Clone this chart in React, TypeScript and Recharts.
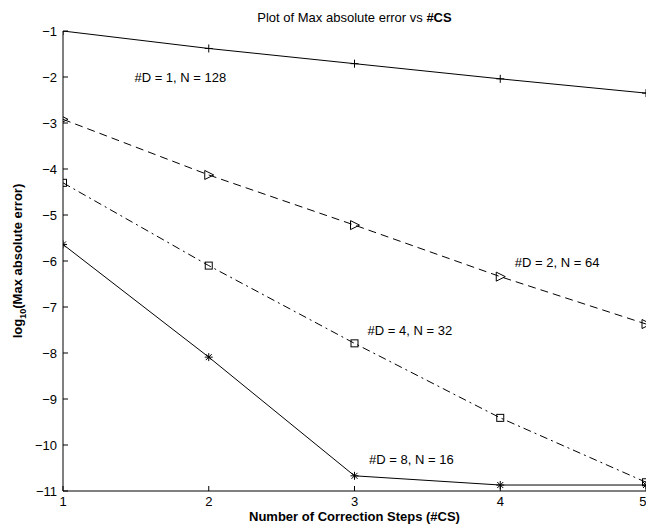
import { ComposedChart, Line, Scatter, XAxis, YAxis } from 'recharts';

// correction steps
const steps = [1, 2, 3, 4, 5];
// log10 of max absolute error per run
const errD1 = [-1.0, -1.38, -1.71, -2.04, -2.35];
const errD2 = [-2.92, -4.13, -5.22, -6.34, -7.37];
const errD4 = [-4.3, -6.1, -7.79, -9.41, -10.81];
const errD8 = [-5.64, -8.09, -10.67, -10.87, -10.87];

const xTicks = [1, 2, 3, 4, 5];
const yTicks = [-11, -10, -9, -8, -7, -6, -5, -4, -3, -2, -1];

// text labels next to the curves (data coords, left edge / middle)
const noteText = ['#D = 1, N = 128', '#D = 2, N = 64', '#D = 4, N = 32', '#D = 8, N = 16'];
const noteX = [1.49, 4.1, 3.09, 3.1];
const noteY = [-2.0, -6.04, -7.52, -10.31];

const data = steps.map((s, i) => ({ x: s, d1: errD1[i], d2: errD2[i], d4: errD4[i], d8: errD8[i] }));
const notes = noteText.map((t, i) => ({ x: noteX[i], y: noteY[i], text: t }));

const FONT = '"Liberation Sans", Arial, Helvetica, sans-serif';
const minus = (v) => String(v).replace('-', '\u2212');

const PlusDot = (p) => {
    const { cx, cy } = p;
    if (cx == null || cy == null) return null;
    return (
        <g key={p.key}>
            <line x1={cx - 4} x2={cx + 4} y1={cy} y2={cy} stroke="#000" />
            <line x1={cx} x2={cx} y1={cy - 4} y2={cy + 4} stroke="#000" />
        </g>
    );
};

const TriDot = (p) => {
    const { cx, cy } = p;
    if (cx == null || cy == null) return null;
    return (
        <polygon
            key={p.key}
            points={`${cx - 4},${cy - 4.5} ${cx - 4},${cy + 4.5} ${cx + 5},${cy}`}
            fill="none"
            stroke="#000"
        />
    );
};

const SquareDot = (p) => {
    const { cx, cy } = p;
    if (cx == null || cy == null) return null;
    return <rect key={p.key} x={cx - 3.5} y={cy - 3.5} width={7} height={7} fill="none" stroke="#000" />;
};

const StarDot = (p) => {
    const { cx, cy } = p;
    if (cx == null || cy == null) return null;
    return (
        <g key={p.key} stroke="#000">
            <line x1={cx - 4} x2={cx + 4} y1={cy} y2={cy} />
            <line x1={cx} x2={cx} y1={cy - 4} y2={cy + 4} />
            <line x1={cx - 3} x2={cx + 3} y1={cy - 3} y2={cy + 3} />
            <line x1={cx - 3} x2={cx + 3} y1={cy + 3} y2={cy - 3} />
        </g>
    );
};

const NoteShape = (p) => (
    <text x={p.cx} y={p.cy} dy="0.35em" fontSize={13} fontFamily={FONT} fill="#000">
        {p.payload.text}
    </text>
);

const YLabel = ({ viewBox }) => {
    const cy = viewBox.y + viewBox.height / 2;
    return (
        <text
            transform={`translate(22, ${cy}) rotate(-90)`}
            textAnchor="middle"
            fontSize={13}
            fontWeight="bold"
            fontFamily={FONT}
            fill="#000"
        >
            log<tspan fontSize={9} dy={4}>10</tspan>
            <tspan dy={-4}>(Max absolute error)</tspan>
        </text>
    );
};

const XLabel = ({ viewBox }) => {
    const cx = viewBox.x + viewBox.width / 2;
    return (
        <g fontFamily={FONT} fill="#000">
            <text x={cx} y={viewBox.y + 30} textAnchor="middle" fontSize={13} fontWeight="bold">
                Number of Correction Steps (#CS)
            </text>
            <text x={cx} y={22} textAnchor="middle" fontSize={13}>
                Plot of Max absolute error vs <tspan fontWeight="bold">#CS</tspan>
            </text>
        </g>
    );
};

export default function App() {
    return (
        <div style={{ position: 'absolute', left: 0, top: 0, background: '#fff' }}>
            <ComposedChart width={646} height={527} data={data} margin={{ top: 31, right: 0, left: 0, bottom: 0 }}>
                <XAxis
                    dataKey="x"
                    type="number"
                    domain={[1, 5]}
                    ticks={xTicks}
                    allowDataOverflow
                    height={36}
                    stroke="#000"
                    tickSize={-5}
                    tickMargin={11}
                    tick={{ fill: '#000', fontSize: 13, fontFamily: FONT }}
                    label={{ content: XLabel }}
                />
                <YAxis
                    type="number"
                    domain={[-11, -1]}
                    ticks={yTicks}
                    allowDataOverflow
                    width={63}
                    stroke="#000"
                    tickSize={-5}
                    tickMargin={11}
                    tickFormatter={minus}
                    tick={{ fill: '#000', fontSize: 13, fontFamily: FONT }}
                    label={{ content: YLabel }}
                />
                <Line dataKey="d1" type="linear" stroke="#000" strokeWidth={1} dot={PlusDot} activeDot={false} isAnimationActive={false} />
                <Line dataKey="d2" type="linear" stroke="#000" strokeWidth={1} strokeDasharray="8 5" dot={TriDot} activeDot={false} isAnimationActive={false} />
                <Line dataKey="d4" type="linear" stroke="#000" strokeWidth={1} strokeDasharray="8 4 2 4" dot={SquareDot} activeDot={false} isAnimationActive={false} />
                <Line dataKey="d8" type="linear" stroke="#000" strokeWidth={1} dot={StarDot} activeDot={false} isAnimationActive={false} />
                <Scatter data={notes} dataKey="y" shape={NoteShape} isAnimationActive={false} legendType="none" />
            </ComposedChart>
        </div>
    );
}
